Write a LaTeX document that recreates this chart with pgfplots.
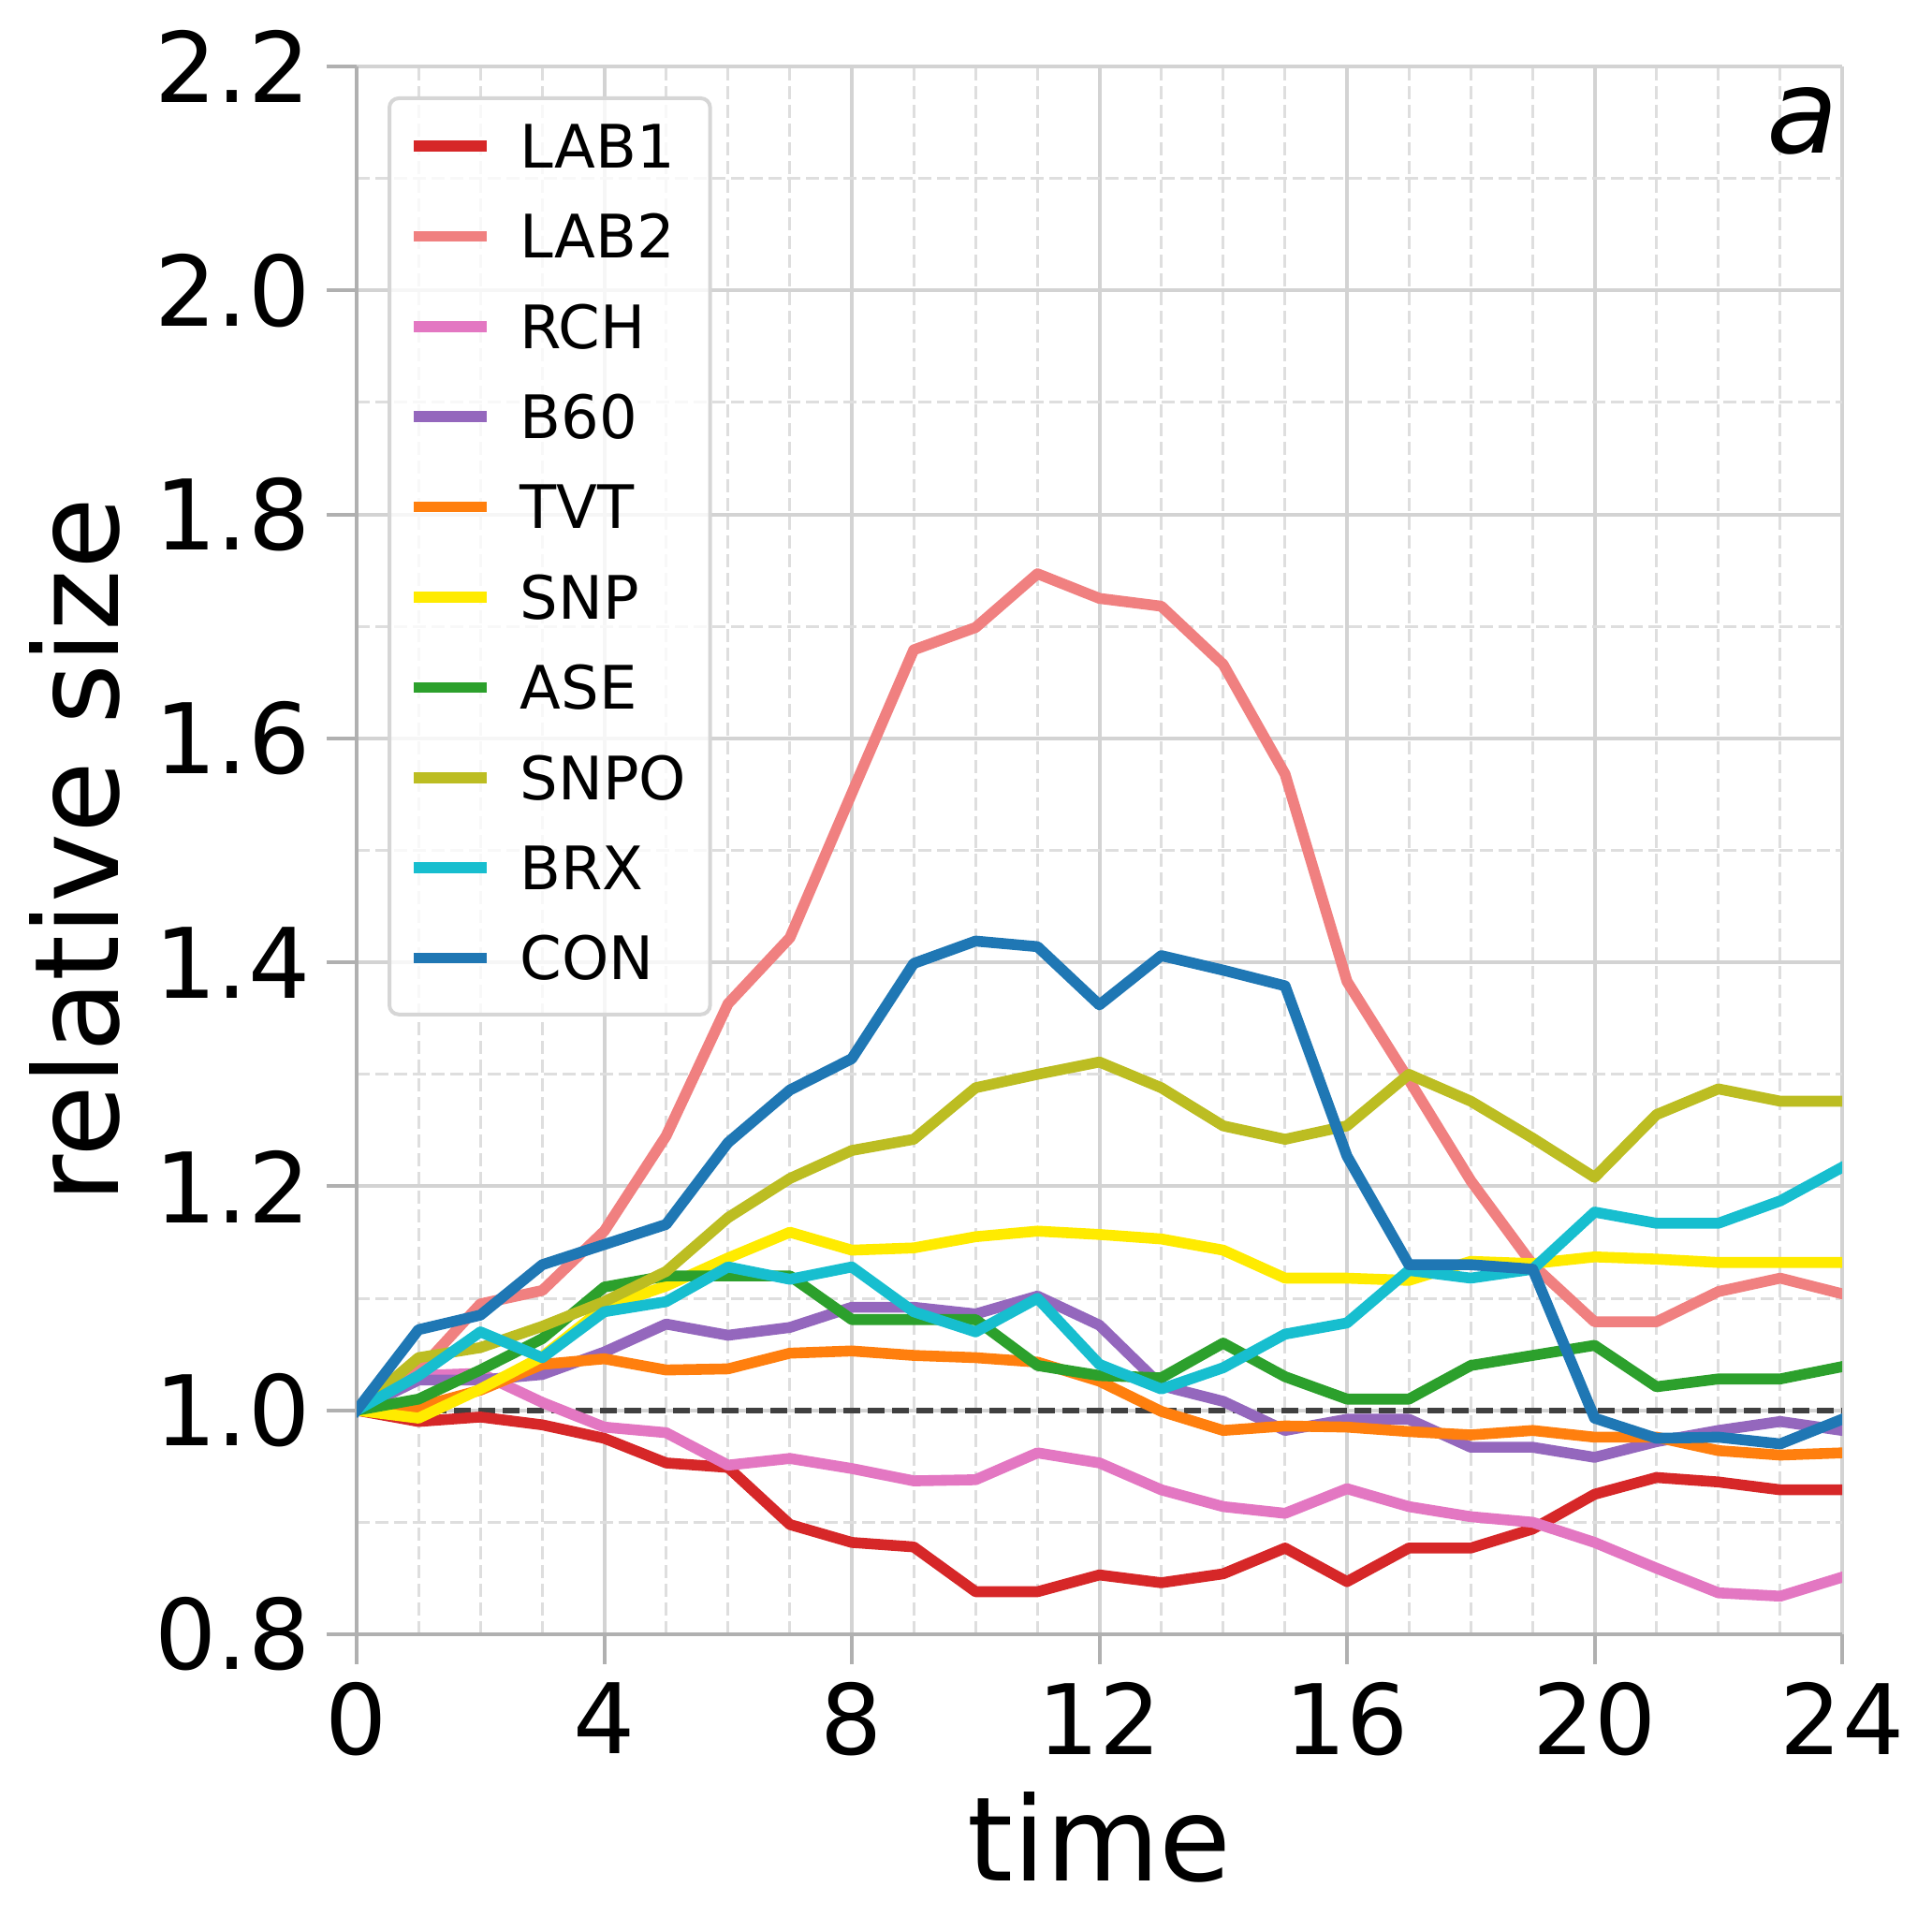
\documentclass[border=0pt]{standalone}
\usepackage{fontspec}
\setmainfont{DejaVu Sans}
\usepackage{pgfplots}
\pgfplotsset{compat=1.18}
\usepackage{pgfplotstable}

\definecolor{cLABone}{HTML}{D62728}
\definecolor{cLABtwo}{HTML}{F08080}
\definecolor{cRCH}{HTML}{E377C2}
\definecolor{cBsix}{HTML}{9467BD}
\definecolor{cTVT}{HTML}{FF7F0E}
\definecolor{cSNP}{RGB}{255,235,0}
\definecolor{cASE}{HTML}{2CA02C}
\definecolor{cSNPO}{HTML}{BCBD22}
\definecolor{cBRX}{HTML}{17BECF}
\definecolor{cCON}{HTML}{1F77B4}
\definecolor{gridmaj}{RGB}{211,211,211}
\definecolor{gridmin}{RGB}{222,222,222}
\definecolor{spine}{RGB}{176,176,176}
\definecolor{hline}{RGB}{64,64,64}
\definecolor{legedge}{RGB}{214,214,214}

\pgfplotstableread{
t LABone LABtwo RCH Bsix TVT SNP ASE SNPO BRX CON
0 1.000 1.000 1.000 1.000 1.000 1.000 1.000 1.000 1.000 1.000
1 0.990 1.035 1.031 1.027 1.003 0.993 1.010 1.047 1.031 1.072
2 0.994 1.095 1.033 1.027 1.018 1.019 1.036 1.056 1.070 1.085
3 0.987 1.107 1.007 1.032 1.041 1.048 1.064 1.075 1.047 1.130
4 0.975 1.160 0.985 1.052 1.046 1.092 1.110 1.097 1.088 1.148
5 0.953 1.245 0.980 1.077 1.036 1.111 1.120 1.124 1.097 1.166
6 0.949 1.363 0.951 1.067 1.037 1.136 1.120 1.172 1.128 1.239
7 0.898 1.422 0.957 1.074 1.051 1.159 1.120 1.207 1.117 1.286
8 0.882 1.551 0.948 1.092 1.053 1.143 1.081 1.232 1.128 1.314
9 0.878 1.679 0.937 1.092 1.049 1.145 1.081 1.242 1.088 1.399
10 0.838 1.699 0.938 1.086 1.047 1.155 1.081 1.288 1.070 1.419
11 0.838 1.747 0.962 1.102 1.043 1.160 1.040 1.300 1.100 1.414
12 0.853 1.725 0.953 1.076 1.026 1.157 1.031 1.311 1.041 1.362
13 0.846 1.718 0.929 1.022 0.999 1.153 1.029 1.288 1.019 1.406
14 0.854 1.666 0.914 1.008 0.982 1.143 1.060 1.254 1.038 1.393
15 0.877 1.568 0.908 0.982 0.986 1.118 1.030 1.242 1.068 1.379
16 0.847 1.383 0.930 0.992 0.985 1.118 1.010 1.254 1.078 1.227
17 0.877 1.295 0.914 0.992 0.981 1.116 1.010 1.300 1.125 1.130
18 0.877 1.205 0.905 0.967 0.978 1.133 1.040 1.276 1.118 1.130
19 0.894 1.130 0.900 0.967 0.982 1.131 1.049 1.243 1.126 1.126
20 0.925 1.079 0.882 0.958 0.976 1.137 1.058 1.208 1.177 0.993
21 0.940 1.079 0.859 0.972 0.976 1.135 1.021 1.264 1.167 0.975
22 0.936 1.106 0.837 0.982 0.964 1.132 1.028 1.287 1.167 0.976
23 0.929 1.118 0.834 0.990 0.960 1.132 1.028 1.276 1.187 0.970
24 0.929 1.104 0.851 0.982 0.962 1.132 1.039 1.276 1.217 0.992
}\datatable

\begin{document}
\begin{tikzpicture}
\begin{axis}[
  at={(95.25pt,79.25pt)}, anchor=south west,
  scale only axis, width=396.75pt, height=418.75pt,
  xmin=0, xmax=24, ymin=0.8, ymax=2.2,
  xtick={0,4,8,12,16,20,24},
  ytick={0.8,1.0,1.2,1.4,1.6,1.8,2.0,2.2},
  minor x tick num=3, minor y tick num=1,
  axis x line*=bottom, axis y line*=left,
  axis line style={spine, line width=1pt, -},
  tick align=outside,
  major tick length=8pt,
  major tick style={spine, line width=1pt},
  minor tick style={draw=none},
  grid=both,
  major grid style={gridmaj, line width=1pt, solid},
  minor grid style={gridmin, line width=0.75pt, dash pattern=on 3.5pt off 1.5pt},
  /pgf/number format/assume math mode=true,
  tick label style={font=\fontsize{26}{31}\selectfont},
  xticklabel style={anchor=north, inner sep=0pt, yshift=-4.75pt},
  yticklabel style={anchor=east, inner sep=0pt, xshift=-4.25pt,
    /pgf/number format/.cd, fixed, fixed zerofill, precision=1},
  label style={font=\fontsize{31.25}{37}\selectfont},
  xlabel={time},
  ylabel={relative size},
  xlabel style={at={(axis description cs:0.5,-0.15761)}, anchor=base, inner sep=0pt},
  ylabel style={at={(axis description cs:-0.16005,0.5)}, anchor=base, inner sep=0pt},
  every axis plot/.append style={line width=2.9pt, line join=round, line cap=rect},
  legend cell align=left,
  legend style={
    at={(axis description cs:0,1)}, anchor=north west,
    xshift=8.25pt, yshift=-8pt,
    draw=legedge, line width=1pt, rounded corners=2.5pt,
    fill=white, fill opacity=0.8, draw opacity=1, text opacity=1,
    inner xsep=6.4pt, inner ysep=6.9pt,
    font=\fontsize{16}{19.2}\selectfont,
    row sep=10.1pt,
    nodes={inner sep=0pt, text height=11.7pt, text depth=2.3pt},
  },
  legend image code/.code={\draw[#1, line width=2.9pt, line cap=rect] (0pt,1.15pt) -- (16.75pt,1.15pt); \path (25.6pt,0pt);},
]
\addplot[hline, line width=1.4pt, line cap=butt, dash pattern=on 4.5pt off 2pt, forget plot] coordinates {(0,1) (24,1)};
\addplot[cLABone] table[x=t, y=LABone] {\datatable};
\addlegendentry{LAB1}
\addplot[cLABtwo] table[x=t, y=LABtwo] {\datatable};
\addlegendentry{LAB2}
\addplot[cRCH] table[x=t, y=RCH] {\datatable};
\addlegendentry{RCH}
\addplot[cBsix] table[x=t, y=Bsix] {\datatable};
\addlegendentry{B60}
\addplot[cTVT] table[x=t, y=TVT] {\datatable};
\addlegendentry{TVT}
\addplot[cSNP] table[x=t, y=SNP] {\datatable};
\addlegendentry{SNP}
\addplot[cASE] table[x=t, y=ASE] {\datatable};
\addlegendentry{ASE}
\addplot[cSNPO] table[x=t, y=SNPO] {\datatable};
\addlegendentry{SNPO}
\addplot[cBRX] table[x=t, y=BRX] {\datatable};
\addlegendentry{BRX}
\addplot[cCON] table[x=t, y=CON] {\datatable};
\addlegendentry{CON}
\node[anchor=north east, inner sep=0pt, font=\fontsize{31.25}{37}\selectfont\itshape] at (rel axis cs:1,1) [xshift=-0.75pt, yshift=-5.5pt] {a};
\end{axis}
\pgfresetboundingbox
\path (0,0) rectangle (516pt,515.75pt);
\end{tikzpicture}
\end{document}
